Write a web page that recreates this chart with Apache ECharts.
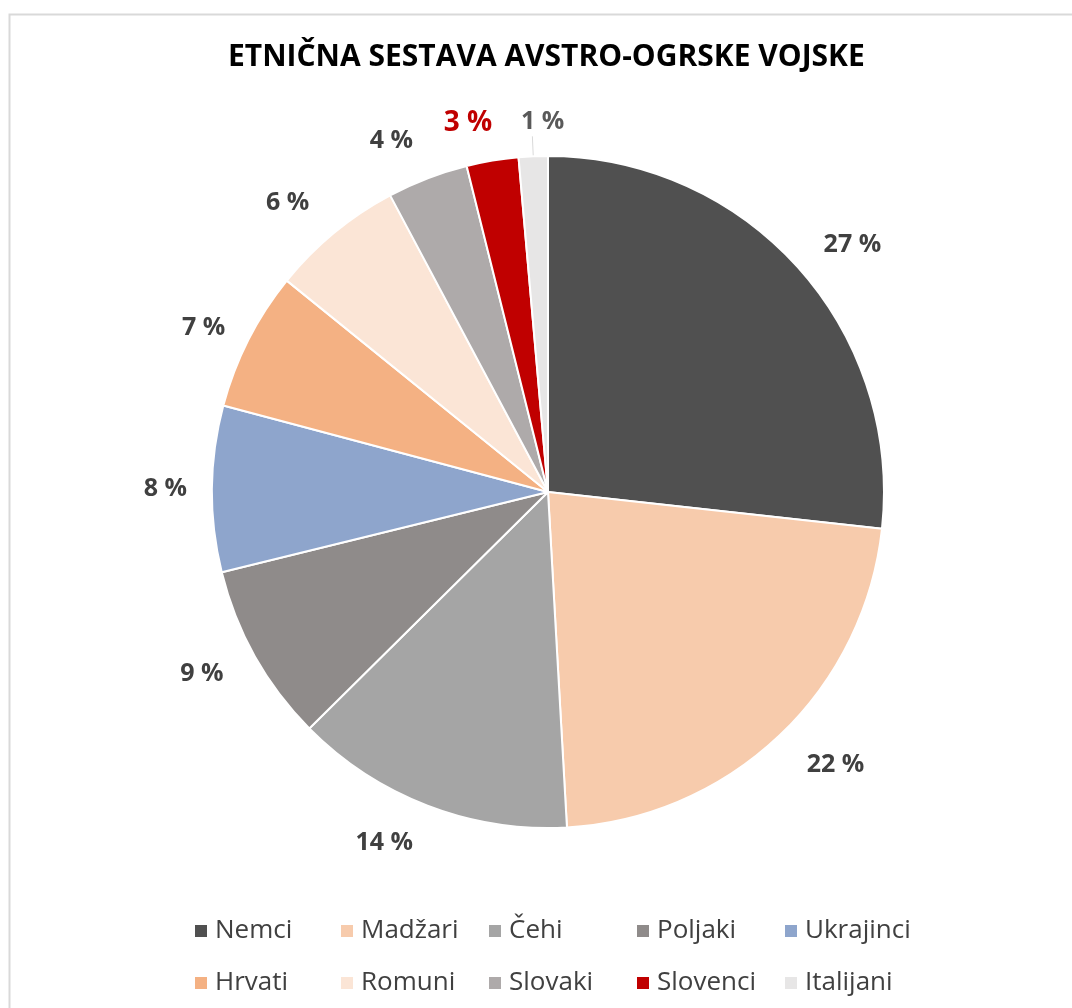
<!DOCTYPE html>
<html>
<head>
<meta charset="utf-8">
<script src="https://cdn.jsdelivr.net/npm/echarts@6/dist/echarts.min.js"></script>
<style>
  html, body { margin: 0; padding: 0; background: #fff; }
  #chart { width: 1072px; height: 1008px; }
</style>
</head>
<body>
<div id="chart"></div>
<script>
// narodnosti in delež (v %)
const categories = ['Nemci', 'Madžari', 'Čehi', 'Poljaki', 'Ukrajinci', 'Hrvati', 'Romuni', 'Slovaki', 'Slovenci', 'Italijani']
const values = [26.8, 22.4, 13.5, 8.6, 8.0, 6.7, 6.4, 3.9, 2.5, 1.4]
const colors = ['#505050', '#F7CBAC', '#A5A5A5', '#8F8B8A', '#8EA5CC', '#F4B183', '#FBE5D6', '#AEAAAA', '#C00000', '#E7E6E6']
// odmik oznake od roba kroga
const labelGap = [34, 40, 40, 36, 25, 26, 39, 40, 38, 20]

const font = '"Open Sans", Lato, sans-serif'

let chart = echarts.init(document.getElementById('chart'))

// legenda v stolpcih (kot v Excelu)
const legendLeft = [188, 334, 482, 630, 778]
const legends = legendLeft.map((x, i) => ({
  orient: 'vertical',
  left: x,
  top: 911,
  itemWidth: 14,
  itemHeight: 14,
  itemGap: 22,
  icon: 'rect',
  textStyle: { fontFamily: font, fontSize: 26, color: '#404040', lineHeight: 30, padding: [0, 0, 0, 2] },
  data: [categories[i], categories[i + 5]]
}))

chart.setOption({
  animation: false,
  title: {
    text: 'ETNIČNA SESTAVA AVSTRO-OGRSKE VOJSKE',
    left: 223,
    top: 37,
    textStyle: { fontFamily: font, fontSize: 30, fontWeight: 'bold', color: '#000' }
  },
  graphic: [{
    type: 'rect',
    shape: { x: 9.5, y: 14.5, width: 1100, height: 1100 },
    style: { fill: 'none', stroke: '#d9d9d9', lineWidth: 2 },
    silent: true
  }],
  legend: legends,
  series: [{
    type: 'pie',
    center: [548, 492],
    radius: 336,
    startAngle: 90,
    clockwise: true,
    avoidLabelOverlap: false,
    itemStyle: { borderColor: '#fff', borderWidth: 2 },
    label: {
      show: true,
      position: 'outside',
      fontFamily: font,
      fontSize: 25,
      fontWeight: 'bold',
      color: '#404040',
      distanceToLabelLine: 0,
      formatter: p => Math.round(p.value) + ' %'
    },
    labelLine: { show: false, length2: 0 },
    data: categories.map((name, i) => {
      const item = {
        name: name,
        value: values[i],
        itemStyle: { color: colors[i] },
        labelLine: { length: labelGap[i] }
      }
      if (name === 'Slovenci') {
        item.label = { color: '#C00000', fontSize: 28, offset: [6, 0] }
      }
      if (name === 'Italijani') {
        item.label = { color: '#595959', offset: [32, -14] }
        item.labelLine = { show: true, length: labelGap[i], length2: 0, lineStyle: { color: '#d9d9d9', width: 1 } }
      }
      return item
    })
  }]
})
</script>
</body>
</html>
